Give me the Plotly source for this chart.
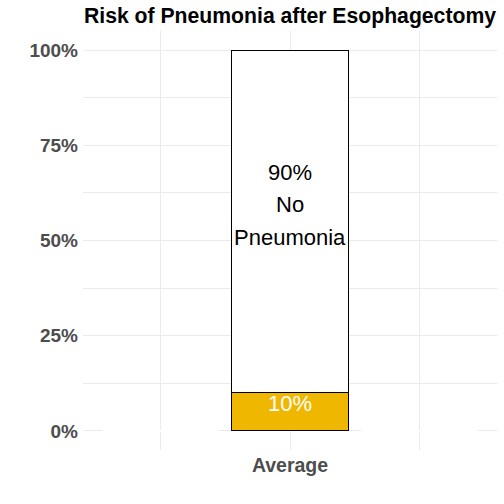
import plotly.graph_objects as go

# ---- data ----
categories = ["Average"]
outcomes = ["Pneumonia", "No Pneumonia"]
values = [10, 90]
bar_labels = ["10%", "90%\nNo\nPneumonia"]
bar_colors = ["#F0B700", "#FFFFFF"]
label_colors = ["#FFFFFF", "#000000"]
ghost_positions = [-1, 1]          # empty category slots either side
y_ticks = [0, 25, 50, 75, 100]
title_text = "Risk of Pneumonia after Esophagectomy"

BAR_W = 0.9
FONT = "Liberation Sans, Arial, sans-serif"

fig = go.Figure()

# invisible zero-height bars in neighbouring slots (white outline over the 0 gridline)
for p in ghost_positions:
    fig.add_trace(go.Scatter(x=[p - BAR_W / 2, p + BAR_W / 2], y=[0, 0], mode="lines",
                             line=dict(color="white", width=2), hoverinfo="skip",
                             showlegend=False))

for o, v, c in zip(outcomes, values, bar_colors):
    fig.add_trace(go.Bar(x=[0], y=[v], name=o, width=BAR_W,
                         marker=dict(color=c, line=dict(color="black", width=1)),
                         showlegend=False))

# stacked labels
base = 0
annotations = []
for v, lab, lc in zip(values, bar_labels, label_colors):
    mid = base + v / 2
    lines = lab.split("\n")
    n = len(lines)
    spacing = 32.5
    offset0 = 8 if n == 1 else 16.5
    for i, ln in enumerate(lines):
        shift = offset0 + ((n - 1) / 2 - i) * spacing
        annotations.append(dict(x=0, y=mid, xref="x", yref="y", text=ln, showarrow=False,
                                yshift=shift, font=dict(family=FONT, size=22, color=lc)))
    base += v

fig.update_layout(
    width=504, height=504,
    margin=dict(l=83, r=7, t=31, b=54),
    barmode="stack",
    plot_bgcolor="white", paper_bgcolor="white",
    title=dict(text="<b>" + title_text + "</b>", x=0.5, xref="paper", xanchor="center",
               y=1 - 23 / 504, yref="container", yanchor="bottom",
               font=dict(family=FONT, size=21.2, color="black")),
    annotations=annotations,
)

fig.update_xaxes(range=[-1.6, 1.6], tickvals=[-1, 0, 1], ticktext=["", categories[0], ""],
                 showgrid=True, gridcolor="#EBEBEB", gridwidth=1, zeroline=False,
                 showline=False, ticks="", ticklabelstandoff=1,
                 tickfont=dict(family=FONT, size=19.5, color="#4D4D4D", weight="bold"))
fig.update_yaxes(range=[-5, 105], tickvals=y_ticks, ticktext=[f"{t}%" for t in y_ticks],
                 showgrid=True, gridcolor="#EBEBEB", gridwidth=1, zeroline=False,
                 showline=False, ticks="", ticklabelstandoff=4,
                 minor=dict(dtick=12.5, tick0=0, showgrid=True, gridcolor="#EBEBEB", gridwidth=1),
                 tickfont=dict(family=FONT, size=19, color="#4D4D4D", weight="bold"))

fig.write_html("out.html")
